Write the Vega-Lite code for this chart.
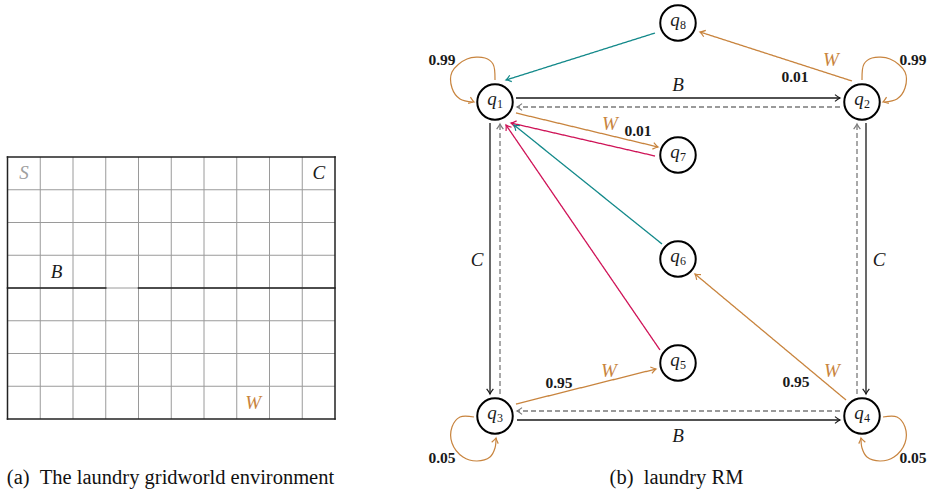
{
  "$schema": "https://vega.github.io/schema/vega-lite/v6.json",
  "width": 930,
  "height": 493,
  "autosize": "none",
  "padding": 0,
  "background": "white",
  "config": {"view": {"stroke": null}, "font": "Liberation Serif"},
  "datasets": {
    "gridThin": [
      {"x": 40.25, "y": 157, "x2": 40.25, "y2": 419},
      {"x": 73, "y": 157, "x2": 73, "y2": 419},
      {"x": 105.75, "y": 157, "x2": 105.75, "y2": 419},
      {"x": 138.5, "y": 157, "x2": 138.5, "y2": 419},
      {"x": 171.25, "y": 157, "x2": 171.25, "y2": 419},
      {"x": 204, "y": 157, "x2": 204, "y2": 419},
      {"x": 236.75, "y": 157, "x2": 236.75, "y2": 419},
      {"x": 269.5, "y": 157, "x2": 269.5, "y2": 419},
      {"x": 302.25, "y": 157, "x2": 302.25, "y2": 419},
      {"x": 7.5, "y": 189.75, "x2": 335, "y2": 189.75},
      {"x": 7.5, "y": 222.5, "x2": 335, "y2": 222.5},
      {"x": 7.5, "y": 255.25, "x2": 335, "y2": 255.25},
      {"x": 7.5, "y": 288, "x2": 335, "y2": 288},
      {"x": 7.5, "y": 320.75, "x2": 335, "y2": 320.75},
      {"x": 7.5, "y": 353.5, "x2": 335, "y2": 353.5},
      {"x": 7.5, "y": 386.25, "x2": 335, "y2": 386.25}
    ],
    "gridWalls": [
      {"x": 7.5, "y": 157, "x2": 335, "y2": 157},
      {"x": 7.5, "y": 419, "x2": 335, "y2": 419},
      {"x": 7.5, "y": 157, "x2": 7.5, "y2": 419},
      {"x": 335, "y": 157, "x2": 335, "y2": 419},
      {"x": 7.5, "y": 288, "x2": 105.75, "y2": 288},
      {"x": 138.5, "y": 288, "x2": 335, "y2": 288}
    ],
    "cellLabels": [
      {"x": 23.9, "y": 173.4, "text": "S", "kind": "start"},
      {"x": 318.9, "y": 173.4, "text": "C", "kind": "event"},
      {"x": 56.6, "y": 271.6, "text": "B", "kind": "event"},
      {"x": 253.1, "y": 402.6, "text": "W", "kind": "W"}
    ],
    "nodes": [
      {"x": 495, "y": 102, "sub": "1"},
      {"x": 862, "y": 102, "sub": "2"},
      {"x": 495, "y": 416, "sub": "3"},
      {"x": 862, "y": 416, "sub": "4"},
      {"x": 678, "y": 363, "sub": "5"},
      {"x": 678, "y": 259, "sub": "6"},
      {"x": 678, "y": 155, "sub": "7"},
      {"x": 678, "y": 23, "sub": "8"}
    ],
    "edges": [
      {"x": 516, "y": 98, "x2": 840, "y2": 98, "heading": 0, "kind": "event"},
      {"x": 840, "y": 107, "x2": 517, "y2": 107, "heading": 180, "kind": "back"},
      {"x": 490, "y": 123, "x2": 490, "y2": 394, "heading": 90, "kind": "event"},
      {"x": 500, "y": 394, "x2": 500, "y2": 124, "heading": 270, "kind": "back"},
      {"x": 866, "y": 123, "x2": 866, "y2": 394, "heading": 90, "kind": "event"},
      {"x": 857, "y": 394, "x2": 857, "y2": 124, "heading": 270, "kind": "back"},
      {"x": 517, "y": 420, "x2": 840, "y2": 420, "heading": 0, "kind": "event"},
      {"x": 840, "y": 411, "x2": 517, "y2": 411, "heading": 180, "kind": "back"},
      {"x": 852, "y": 81, "x2": 700, "y2": 32, "heading": 198, "kind": "W"},
      {"x": 655, "y": 33, "x2": 506, "y2": 80, "heading": 162, "kind": "done"},
      {"x": 516, "y": 113, "x2": 658, "y2": 147, "heading": 13, "kind": "W"},
      {"x": 655, "y": 156, "x2": 511, "y2": 123, "heading": 193, "kind": "fail"},
      {"x": 662, "y": 244, "x2": 514, "y2": 125, "heading": 219, "kind": "done"},
      {"x": 660, "y": 350, "x2": 506, "y2": 125, "heading": 236, "kind": "fail"},
      {"x": 516, "y": 404, "x2": 656, "y2": 369, "heading": 346, "kind": "W"},
      {"x": 846, "y": 400, "x2": 695, "y2": 274, "heading": 220, "kind": "W"}
    ],
    "loops": [
      {"loop": "q1", "step": 0, "x": 495, "y": 80, "kind": "W"},
      {"loop": "q1", "step": 1, "x": 493, "y": 64, "kind": "W"},
      {"loop": "q1", "step": 2, "x": 485, "y": 58, "kind": "W"},
      {"loop": "q1", "step": 3, "x": 467, "y": 59, "kind": "W"},
      {"loop": "q1", "step": 4, "x": 452, "y": 72, "kind": "W"},
      {"loop": "q1", "step": 5, "x": 452, "y": 88, "kind": "W"},
      {"loop": "q1", "step": 6, "x": 460, "y": 99, "kind": "W"},
      {"loop": "q1", "step": 7, "x": 473, "y": 102, "kind": "W"},
      {"loop": "q2", "step": 0, "x": 862, "y": 80, "kind": "W"},
      {"loop": "q2", "step": 1, "x": 864, "y": 64, "kind": "W"},
      {"loop": "q2", "step": 2, "x": 872, "y": 58, "kind": "W"},
      {"loop": "q2", "step": 3, "x": 890, "y": 59, "kind": "W"},
      {"loop": "q2", "step": 4, "x": 905, "y": 72, "kind": "W"},
      {"loop": "q2", "step": 5, "x": 905, "y": 88, "kind": "W"},
      {"loop": "q2", "step": 6, "x": 897, "y": 99, "kind": "W"},
      {"loop": "q2", "step": 7, "x": 884, "y": 102, "kind": "W"},
      {"loop": "q3", "step": 0, "x": 474, "y": 417, "kind": "W"},
      {"loop": "q3", "step": 1, "x": 460, "y": 417, "kind": "W"},
      {"loop": "q3", "step": 2, "x": 452, "y": 427, "kind": "W"},
      {"loop": "q3", "step": 3, "x": 452, "y": 443, "kind": "W"},
      {"loop": "q3", "step": 4, "x": 463, "y": 457, "kind": "W"},
      {"loop": "q3", "step": 5, "x": 477, "y": 461, "kind": "W"},
      {"loop": "q3", "step": 6, "x": 490, "y": 457, "kind": "W"},
      {"loop": "q3", "step": 7, "x": 495, "y": 448, "kind": "W"},
      {"loop": "q3", "step": 8, "x": 496, "y": 438, "kind": "W"},
      {"loop": "q4", "step": 0, "x": 883, "y": 417, "kind": "W"},
      {"loop": "q4", "step": 1, "x": 897, "y": 417, "kind": "W"},
      {"loop": "q4", "step": 2, "x": 905, "y": 427, "kind": "W"},
      {"loop": "q4", "step": 3, "x": 905, "y": 443, "kind": "W"},
      {"loop": "q4", "step": 4, "x": 894, "y": 457, "kind": "W"},
      {"loop": "q4", "step": 5, "x": 880, "y": 461, "kind": "W"},
      {"loop": "q4", "step": 6, "x": 867, "y": 457, "kind": "W"},
      {"loop": "q4", "step": 7, "x": 862, "y": 448, "kind": "W"},
      {"loop": "q4", "step": 8, "x": 861, "y": 438, "kind": "W"}
    ],
    "loopTips": [
      {"x": 474, "y": 102, "heading": 20, "kind": "W"},
      {"x": 883, "y": 102, "heading": 160, "kind": "W"},
      {"x": 496, "y": 438, "heading": 282, "kind": "W"},
      {"x": 861, "y": 438, "heading": 258, "kind": "W"}
    ],
    "symLabels": [
      {"x": 678, "y": 85, "text": "B", "kind": "event"},
      {"x": 678, "y": 436, "text": "B", "kind": "event"},
      {"x": 477, "y": 260, "text": "C", "kind": "event"},
      {"x": 879, "y": 260, "text": "C", "kind": "event"},
      {"x": 831, "y": 60, "text": "W", "kind": "W"},
      {"x": 610, "y": 124, "text": "W", "kind": "W"},
      {"x": 609, "y": 371, "text": "W", "kind": "W"},
      {"x": 832, "y": 371, "text": "W", "kind": "W"}
    ],
    "probLabels": [
      {"x": 442, "y": 60, "text": "0.99"},
      {"x": 913, "y": 60, "text": "0.99"},
      {"x": 795, "y": 77, "text": "0.01"},
      {"x": 638, "y": 131, "text": "0.01"},
      {"x": 559, "y": 383, "text": "0.95"},
      {"x": 796, "y": 382, "text": "0.95"},
      {"x": 442, "y": 458, "text": "0.05"},
      {"x": 913, "y": 458, "text": "0.05"}
    ],
    "captions": [
      {"x": 170.5, "y": 478, "text": "(a)\u00a0\u00a0The laundry gridworld environment"},
      {"x": 676.5, "y": 478, "text": "(b)\u00a0\u00a0laundry RM"}
    ]
  },
  "layer": [
    {
      "data": {"name": "gridThin"},
      "mark": {"type": "rule", "stroke": "#9a9a9a", "strokeWidth": 1},
      "encoding": {
        "x": {"field": "x", "type": "quantitative", "scale": {"domain": [0, 930], "nice": false, "zero": false}, "axis": null},
        "y": {"field": "y", "type": "quantitative", "scale": {"domain": [0, 493], "nice": false, "zero": false, "reverse": true}, "axis": null},
        "x2": {"field": "x2"},
        "y2": {"field": "y2"}
      }
    },
    {
      "data": {"name": "gridWalls"},
      "mark": {"type": "rule", "stroke": "#222222", "strokeWidth": 1.5, "strokeCap": "square"},
      "encoding": {
        "x": {"field": "x", "type": "quantitative", "scale": {"domain": [0, 930], "nice": false, "zero": false}, "axis": null},
        "y": {"field": "y", "type": "quantitative", "scale": {"domain": [0, 493], "nice": false, "zero": false, "reverse": true}, "axis": null},
        "x2": {"field": "x2"},
        "y2": {"field": "y2"}
      }
    },
    {
      "data": {"name": "cellLabels"},
      "mark": {"type": "text", "font": "Liberation Serif", "fontStyle": "italic", "fontSize": 19, "align": "center", "baseline": "middle"},
      "encoding": {
        "x": {"field": "x", "type": "quantitative", "scale": {"domain": [0, 930], "nice": false, "zero": false}, "axis": null},
        "y": {"field": "y", "type": "quantitative", "scale": {"domain": [0, 493], "nice": false, "zero": false, "reverse": true}, "axis": null},
        "text": {"field": "text"},
        "color": {"field": "kind", "type": "nominal", "legend": null, "scale": {"domain": ["event", "back", "W", "done", "fail", "start"], "range": ["#1a1a1a", "#7a7a7a", "#c8843e", "#13898a", "#cf1458", "#a0a0a0"]}}
      }
    },
    {
      "data": {"name": "edges"},
      "mark": {"type": "rule", "strokeWidth": 1.3},
      "encoding": {
        "x": {"field": "x", "type": "quantitative", "scale": {"domain": [0, 930], "nice": false, "zero": false}, "axis": null},
        "y": {"field": "y", "type": "quantitative", "scale": {"domain": [0, 493], "nice": false, "zero": false, "reverse": true}, "axis": null},
        "x2": {"field": "x2"},
        "y2": {"field": "y2"},
        "color": {"field": "kind", "type": "nominal", "legend": null, "scale": {"domain": ["event", "back", "W", "done", "fail", "start"], "range": ["#1a1a1a", "#7a7a7a", "#c8843e", "#13898a", "#cf1458", "#a0a0a0"]}},
        "strokeDash": {"field": "kind", "type": "nominal", "legend": null, "scale": {"domain": ["event", "back", "W", "done", "fail", "start"], "range": [[1, 0], [5, 3], [1, 0], [1, 0], [1, 0], [1, 0]]}}
      }
    },
    {
      "data": {"name": "edges"},
      "mark": {"type": "point", "filled": false, "strokeWidth": 1.2, "size": 70, "opacity": 1, "shape": "M-1.2,-0.8Q-0.45,-0.2 0,0Q-0.45,0.2 -1.2,0.8"},
      "encoding": {
        "x": {"field": "x2", "type": "quantitative", "scale": {"domain": [0, 930], "nice": false, "zero": false}, "axis": null},
        "y": {"field": "y2", "type": "quantitative", "scale": {"domain": [0, 493], "nice": false, "zero": false, "reverse": true}, "axis": null},
        "angle": {"field": "heading", "type": "quantitative", "scale": null},
        "color": {"field": "kind", "type": "nominal", "legend": null, "scale": {"domain": ["event", "back", "W", "done", "fail", "start"], "range": ["#1a1a1a", "#7a7a7a", "#c8843e", "#13898a", "#cf1458", "#a0a0a0"]}}
      }
    },
    {
      "data": {"name": "loops"},
      "mark": {"type": "line", "interpolate": "catmull-rom", "strokeWidth": 1.2},
      "encoding": {
        "x": {"field": "x", "type": "quantitative", "scale": {"domain": [0, 930], "nice": false, "zero": false}, "axis": null},
        "y": {"field": "y", "type": "quantitative", "scale": {"domain": [0, 493], "nice": false, "zero": false, "reverse": true}, "axis": null},
        "order": {"field": "step", "type": "quantitative"},
        "detail": {"field": "loop", "type": "nominal"},
        "color": {"field": "kind", "type": "nominal", "legend": null, "scale": {"domain": ["event", "back", "W", "done", "fail", "start"], "range": ["#1a1a1a", "#7a7a7a", "#c8843e", "#13898a", "#cf1458", "#a0a0a0"]}}
      }
    },
    {
      "data": {"name": "loopTips"},
      "mark": {"type": "point", "filled": false, "strokeWidth": 1.2, "size": 70, "opacity": 1, "shape": "M-1.2,-0.8Q-0.45,-0.2 0,0Q-0.45,0.2 -1.2,0.8"},
      "encoding": {
        "x": {"field": "x", "type": "quantitative", "scale": {"domain": [0, 930], "nice": false, "zero": false}, "axis": null},
        "y": {"field": "y", "type": "quantitative", "scale": {"domain": [0, 493], "nice": false, "zero": false, "reverse": true}, "axis": null},
        "angle": {"field": "heading", "type": "quantitative", "scale": null},
        "color": {"field": "kind", "type": "nominal", "legend": null, "scale": {"domain": ["event", "back", "W", "done", "fail", "start"], "range": ["#1a1a1a", "#7a7a7a", "#c8843e", "#13898a", "#cf1458", "#a0a0a0"]}}
      }
    },
    {
      "data": {"name": "nodes"},
      "mark": {"type": "point", "shape": "circle", "size": 1260, "filled": true, "fill": "white", "stroke": "black", "strokeWidth": 2, "opacity": 1, "fillOpacity": 1, "strokeOpacity": 1},
      "encoding": {
        "x": {"field": "x", "type": "quantitative", "scale": {"domain": [0, 930], "nice": false, "zero": false}, "axis": null},
        "y": {"field": "y", "type": "quantitative", "scale": {"domain": [0, 493], "nice": false, "zero": false, "reverse": true}, "axis": null}
      }
    },
    {
      "data": {"name": "nodes"},
      "mark": {"type": "text", "text": "q", "font": "Liberation Serif", "fontStyle": "italic", "fontSize": 19, "align": "center", "baseline": "alphabetic", "dx": -3, "dy": 3, "color": "#1a1a1a"},
      "encoding": {
        "x": {"field": "x", "type": "quantitative", "scale": {"domain": [0, 930], "nice": false, "zero": false}, "axis": null},
        "y": {"field": "y", "type": "quantitative", "scale": {"domain": [0, 493], "nice": false, "zero": false, "reverse": true}, "axis": null}
      }
    },
    {
      "data": {"name": "nodes"},
      "mark": {"type": "text", "font": "Liberation Serif", "fontSize": 12, "align": "left", "baseline": "alphabetic", "dx": 2, "dy": 6, "color": "#1a1a1a"},
      "encoding": {
        "x": {"field": "x", "type": "quantitative", "scale": {"domain": [0, 930], "nice": false, "zero": false}, "axis": null},
        "y": {"field": "y", "type": "quantitative", "scale": {"domain": [0, 493], "nice": false, "zero": false, "reverse": true}, "axis": null},
        "text": {"field": "sub"}
      }
    },
    {
      "data": {"name": "symLabels"},
      "mark": {"type": "text", "font": "Liberation Serif", "fontStyle": "italic", "fontSize": 19, "align": "center", "baseline": "middle"},
      "encoding": {
        "x": {"field": "x", "type": "quantitative", "scale": {"domain": [0, 930], "nice": false, "zero": false}, "axis": null},
        "y": {"field": "y", "type": "quantitative", "scale": {"domain": [0, 493], "nice": false, "zero": false, "reverse": true}, "axis": null},
        "text": {"field": "text"},
        "color": {"field": "kind", "type": "nominal", "legend": null, "scale": {"domain": ["event", "back", "W", "done", "fail", "start"], "range": ["#1a1a1a", "#7a7a7a", "#c8843e", "#13898a", "#cf1458", "#a0a0a0"]}}
      }
    },
    {
      "data": {"name": "probLabels"},
      "mark": {"type": "text", "font": "Liberation Serif", "fontWeight": "bold", "fontSize": 15.5, "align": "center", "baseline": "middle", "color": "#1a1a1a"},
      "encoding": {
        "x": {"field": "x", "type": "quantitative", "scale": {"domain": [0, 930], "nice": false, "zero": false}, "axis": null},
        "y": {"field": "y", "type": "quantitative", "scale": {"domain": [0, 493], "nice": false, "zero": false, "reverse": true}, "axis": null},
        "text": {"field": "text"}
      }
    },
    {
      "data": {"name": "captions"},
      "mark": {"type": "text", "font": "Liberation Serif", "fontSize": 20.5, "align": "center", "baseline": "middle", "color": "#111111"},
      "encoding": {
        "x": {"field": "x", "type": "quantitative", "scale": {"domain": [0, 930], "nice": false, "zero": false}, "axis": null},
        "y": {"field": "y", "type": "quantitative", "scale": {"domain": [0, 493], "nice": false, "zero": false, "reverse": true}, "axis": null},
        "text": {"field": "text"}
      }
    }
  ]
}
